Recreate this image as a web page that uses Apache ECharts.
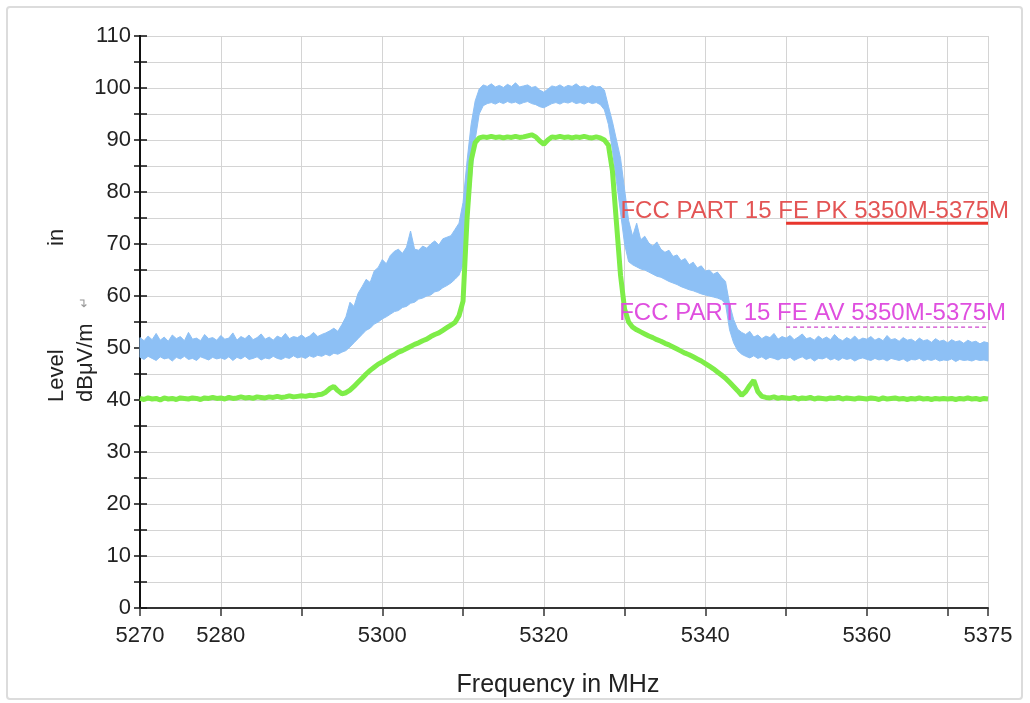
<!DOCTYPE html>
<html>
<head>
<meta charset="utf-8">
<title>Level vs Frequency</title>
<script src="https://cdn.jsdelivr.net/npm/echarts@6/dist/echarts.min.js"></script>
<style>
  html, body { margin: 0; padding: 0; background: #ffffff; }
  #chart { width: 1030px; height: 703px; }
</style>
</head>
<body>
<div id="chart"></div>
<script>
// Sweep grid: 5270 MHz to 5375 MHz in 0.5 MHz steps
const START_MHZ = 5270;
const STEP_MHZ = 0.5;

// Peak detector trace, upper edge of the noise band (dBuV/m), 10 MHz per row
const peakHi = [
  52.0, 51.4, 52.3, 51.6, 52.8, 51.5, 52.1, 51.3, 52.5, 51.8, 52.2, 51.4, 53.0, 51.7, 51.9, 51.4, 52.6, 51.8, 52.0, 51.5,
  52.4, 51.7, 51.9, 52.9, 51.5, 52.2, 51.8, 52.5, 51.6, 52.0, 52.7, 51.7, 52.1, 51.5, 52.3, 51.9, 52.8, 51.8, 52.2, 52.0,
  52.5, 51.9, 52.3, 53.0, 52.2, 52.6, 52.9, 53.3, 53.8, 53.2, 54.5, 56.0, 58.8, 58.0, 60.5, 61.8, 63.2, 62.6, 64.8, 65.5,
  67.0, 66.2, 67.8, 68.6, 69.0, 68.2, 69.4, 72.5, 69.0, 68.8, 69.6, 69.2, 70.0, 70.6, 69.8, 71.0, 71.3, 71.6, 72.8, 74.0,
  78.0, 86.0, 93.0, 97.5, 99.8, 100.6, 100.3, 100.8, 100.2, 100.5, 100.1, 100.7, 100.3, 101.0, 100.2, 100.4, 100.6, 100.1, 100.3, 99.6,
  99.2, 99.8, 100.4, 100.2, 100.6, 100.1, 100.5, 100.3, 100.8, 100.2, 100.4, 100.0, 100.5, 100.2, 100.3, 99.6, 96.5, 93.5, 90.0, 86.5,
  80.5, 74.5, 71.5, 74.0, 70.8, 71.5, 70.2, 69.6, 70.4, 69.0, 68.4, 68.8, 67.6, 67.9, 66.8, 67.2, 66.0, 66.5, 65.4, 65.8,
  64.8, 65.0, 64.2, 64.6, 63.6, 62.8, 58.5, 55.5, 53.6, 53.0, 52.6, 53.2, 52.1, 52.5, 51.8, 52.3, 52.0, 52.8, 51.7, 52.2,
  51.9, 52.4, 51.6, 52.1, 52.7, 51.8, 52.0, 51.5, 52.3, 51.7, 52.1, 51.6, 52.6, 51.8, 51.4, 52.0, 51.6, 52.3, 51.5, 51.9,
  51.7, 52.2, 51.5, 51.9, 51.4, 52.4, 51.6, 51.8, 51.3, 52.0, 51.5, 51.7, 51.2, 51.9, 51.4, 51.6, 51.1, 51.8, 51.3, 51.5,
  51.0, 51.6, 51.2, 51.4, 50.9, 51.5, 51.1, 51.3, 50.8, 51.2, 51.0
];

// Peak detector trace, lower edge of the noise band (dBuV/m)
const peakLo = [
  48.2, 47.8, 48.4, 48.0, 47.6, 48.3, 47.9, 48.1, 47.5, 48.2, 47.9, 48.4, 47.8, 48.0, 47.6, 48.3, 48.0, 47.7, 48.2, 47.9,
  48.1, 47.8, 48.3, 47.6, 48.2, 47.9, 48.4, 47.8, 48.0, 48.3, 47.7, 48.1, 47.9, 48.4, 48.0, 47.8, 48.2, 48.0, 48.5, 48.1,
  48.3, 48.0, 48.5, 48.2, 48.6, 48.4, 48.8, 48.5, 49.0, 48.8, 49.2, 49.5, 50.2, 51.0, 51.8, 52.6, 53.4, 53.8, 54.6, 55.0,
  55.6, 56.0, 56.5, 57.0, 57.2, 57.8, 58.0, 58.6, 58.8, 59.4, 59.6, 60.0, 60.2, 60.8, 61.0, 61.6, 62.0, 62.5, 63.2, 64.0,
  66.0, 72.0, 82.0, 90.0, 95.0, 96.6, 97.0, 97.2, 96.9, 97.3, 97.0, 97.4, 97.1, 97.3, 96.9, 97.2, 97.4, 97.0, 96.8, 96.4,
  96.2, 96.6, 97.0, 97.2, 96.9, 97.3, 97.1, 97.4, 97.0, 97.2, 96.9, 97.3, 97.0, 97.2, 96.8, 95.8, 93.0, 88.0, 82.0, 76.0,
  70.0, 66.6, 66.0, 65.6, 65.2, 65.0, 64.6, 64.2, 63.8, 63.6, 63.2, 62.8, 62.5, 62.2, 61.8, 61.5, 61.2, 61.0, 60.7, 60.4,
  60.2, 60.0, 59.8, 59.6, 59.3, 58.5, 53.5, 51.0, 49.5, 48.8, 48.4, 48.1, 48.5, 48.0, 48.3, 47.8, 48.2, 48.0, 47.7, 48.1,
  47.9, 48.2, 47.6, 48.0, 48.3, 47.8, 48.1, 47.5, 48.0, 47.9, 48.2, 47.7, 48.0, 47.6, 48.1, 47.8, 48.0, 47.5, 47.9, 48.1,
  47.8, 47.6, 48.0, 47.7, 47.9, 47.5, 48.0, 47.8, 47.6, 47.9, 47.4, 47.8, 47.7, 48.0, 47.5, 47.8, 47.6, 47.9, 47.5, 47.7,
  47.6, 47.9, 47.4, 47.8, 47.6, 47.7, 47.5, 47.8, 47.6, 47.7, 47.5
];

// Average detector trace (dBuV/m)
const average = [
  40.3, 40.1, 40.4, 40.2, 40.3, 40.0, 40.4, 40.2, 40.3, 40.1, 40.4, 40.3, 40.2, 40.4, 40.3, 40.1, 40.4, 40.3, 40.5, 40.3,
  40.4, 40.2, 40.5, 40.3, 40.4, 40.6, 40.4, 40.5, 40.3, 40.6, 40.5, 40.4, 40.6, 40.5, 40.7, 40.5, 40.6, 40.8, 40.6, 40.7,
  40.8, 40.7, 40.9, 40.8, 41.0, 41.1, 41.5, 42.2, 42.6, 41.8, 41.2, 41.4, 41.9, 42.6, 43.4, 44.2, 45.0, 45.7, 46.3, 46.9,
  47.3, 47.8, 48.3, 48.7, 49.2, 49.5, 49.9, 50.3, 50.7, 51.0, 51.4, 51.7, 52.2, 52.6, 52.9, 53.4, 53.9, 54.4, 54.9, 56.2,
  59.0, 75.0, 86.0, 89.5, 90.4, 90.6, 90.5, 90.7, 90.5, 90.6, 90.4, 90.6, 90.5, 90.7, 90.5, 90.6, 90.8, 91.0, 90.6, 89.8,
  89.2, 90.0, 90.6, 90.5, 90.7, 90.5, 90.6, 90.4, 90.6, 90.5, 90.7, 90.5, 90.4, 90.6, 90.4, 90.0, 89.0, 84.0, 74.0, 64.0,
  57.5, 55.0, 54.0, 53.5, 53.1, 52.7, 52.3, 52.0, 51.6, 51.3, 50.9, 50.6, 50.2, 49.8, 49.4, 49.0, 48.7, 48.3, 47.9, 47.5,
  47.0, 46.5, 46.0, 45.4, 44.8, 44.2, 43.4, 42.6, 41.8, 40.9, 41.6, 42.8, 43.8, 41.6, 40.7, 40.5, 40.4, 40.6, 40.3, 40.5,
  40.4, 40.3, 40.5, 40.2, 40.4, 40.3, 40.5, 40.2, 40.4, 40.3, 40.2, 40.4, 40.3, 40.5, 40.2, 40.4, 40.3, 40.2, 40.4, 40.3,
  40.2, 40.4, 40.3, 40.1, 40.4, 40.2, 40.3, 40.4, 40.2, 40.3, 40.1, 40.3, 40.2, 40.4, 40.2, 40.3, 40.1, 40.3, 40.2, 40.3,
  40.2, 40.3, 40.1, 40.3, 40.2, 40.4, 40.2, 40.3, 40.1, 40.3, 40.2
];

// Limit lines (dBuV/m) over their frequency span (MHz)
const limitSpan = [5350, 5375];
const peakLimit = 74;
const avgLimit = 54;
const peakLimitName = 'FCC PART 15 FE PK 5350M-5375M';
const avgLimitName = 'FCC PART 15 FE AV 5350M-5375M';

// Labelled frequency ticks
const xTickLabels = [5270, 5280, 5300, 5320, 5340, 5360, 5375];

const freqMHz = peakHi.map((_, i) => START_MHZ + i * STEP_MHZ);

const FONT = '"Liberation Sans", Arial, Helvetica, sans-serif';
const BLUE = '#8dc0f5';
const GREEN = '#7eed48';
const GRID_COLOR = '#d4d4d4';

const chart = echarts.init(document.getElementById('chart'), null, { renderer: 'canvas' });

const option = {
  backgroundColor: '#ffffff',
  animation: false,
  textStyle: { fontFamily: FONT },
  grid: { left: 140, right: 42, top: 36, bottom: 93, containLabel: false },
  xAxis: {
    type: 'value',
    min: 5270,
    max: 5375,
    interval: 10,
    name: 'Frequency in MHz',
    nameLocation: 'middle',
    nameGap: 65,
    nameTextStyle: { fontSize: 25, color: '#222', fontFamily: FONT, padding: [0, 12, 0, 0] },
    axisLine: { show: true, onZero: false, lineStyle: { color: '#333', width: 2 } },
    axisTick: { show: true, inside: false, length: 8, lineStyle: { color: '#333', width: 1.5 } },
    axisLabel: {
      fontSize: 22, color: '#222', margin: 17, fontFamily: FONT,
      formatter: v => (xTickLabels.indexOf(v) >= 0 ? String(v) : '')
    },
    splitLine: { show: true, lineStyle: { color: GRID_COLOR, width: 1 } }
  },
  yAxis: [
    {
      type: 'value',
      min: 0,
      max: 110,
      interval: 5,
      position: 'left',
      axisLine: { show: true, lineStyle: { color: '#111', width: 2 } },
      axisTick: { show: true, inside: false, length: 6, lineStyle: { color: '#111', width: 1.5 } },
      axisLabel: {
        fontSize: 22, color: '#222', margin: 9, fontFamily: FONT,
        formatter: v => (v % 10 === 0 ? String(v) : '')
      },
      splitLine: { show: true, lineStyle: { color: GRID_COLOR, width: 1 } }
    },
    {
      type: 'value',
      min: 0,
      max: 110,
      interval: 5,
      position: 'left',
      offset: 0,
      axisLine: { show: true, lineStyle: { color: '#111', width: 2 } },
      axisTick: { show: true, inside: true, length: 7, lineStyle: { color: '#111', width: 1.5 } },
      axisLabel: { show: false },
      splitLine: { show: false }
    }
  ],
  series: [
    {
      // peak trace drawn as a filled noise band between its lower and upper edges
      type: 'custom',
      name: 'Peak',
      silent: true,
      data: freqMHz.map((f, i) => [f, peakLo[i], peakHi[i]]),
      encode: { x: 0, y: [1, 2] },
      renderItem: (params, api) => {
        if (params.dataIndex !== 0) return null;
        const top = freqMHz.map((f, i) => api.coord([f, peakHi[i]]));
        const bottom = freqMHz.map((f, i) => api.coord([f, peakLo[i]])).reverse();
        return {
          type: 'polygon',
          shape: { points: top.concat(bottom) },
          style: { fill: BLUE, stroke: BLUE, lineWidth: 1 }
        };
      },
      z: 2
    },
    {
      type: 'line',
      name: 'Average',
      data: freqMHz.map((f, i) => [f, average[i]]),
      showSymbol: false,
      symbol: 'none',
      silent: true,
      lineStyle: { color: GREEN, width: 5 },
      z: 3
    },
    {
      type: 'line',
      name: peakLimitName,
      data: limitSpan.map(f => [f, peakLimit]),
      symbol: 'none',
      silent: true,
      lineStyle: { color: '#e8352d', width: 3 },
      markPoint: {
        symbol: 'circle',
        symbolSize: 0,
        silent: true,
        data: [{ coord: [limitSpan[1], peakLimit] }],
        label: {
          show: true, formatter: peakLimitName, position: 'inside',
          align: 'right', verticalAlign: 'middle', offset: [21, -12],
          color: '#e35454', fontSize: 24, fontFamily: FONT
        }
      },
      z: 4
    },
    {
      type: 'line',
      name: avgLimitName,
      data: limitSpan.map(f => [f, avgLimit]),
      symbol: 'none',
      silent: true,
      lineStyle: { color: '#cc44cc', width: 1.2, type: [4, 3] },
      markPoint: {
        symbol: 'circle',
        symbolSize: 0,
        silent: true,
        data: [{ coord: [limitSpan[1], avgLimit] }],
        label: {
          show: true, formatter: avgLimitName, position: 'inside',
          align: 'right', verticalAlign: 'middle', offset: [18, -14],
          color: '#df4fdf', fontSize: 24, fontFamily: FONT
        }
      },
      z: 4
    }
  ],
  graphic: [
    {
      type: 'rect',
      silent: true,
      z: -10,
      shape: { x: 7, y: 7, width: 1015, height: 692, r: 3 },
      style: { fill: 'none', stroke: '#dcdcdc', lineWidth: 2 }
    },
    {
      type: 'text',
      silent: true,
      x: 57, y: 402, rotation: Math.PI / 2,
      style: { text: 'Level', font: '22px ' + FONT, fill: '#222', textAlign: 'left', textVerticalAlign: 'middle' }
    },
    {
      type: 'text',
      silent: true,
      x: 57, y: 246, rotation: Math.PI / 2,
      style: { text: 'in', font: '22px ' + FONT, fill: '#222', textAlign: 'left', textVerticalAlign: 'middle' }
    },
    {
      type: 'text',
      silent: true,
      x: 86, y: 402, rotation: Math.PI / 2,
      style: { text: 'dBμV/m', font: '22px ' + FONT, fill: '#222', textAlign: 'left', textVerticalAlign: 'middle' }
    },
    {
      type: 'text',
      silent: true,
      x: 84, y: 308, rotation: Math.PI / 2,
      style: { text: '↵', font: '13px ' + FONT, fill: '#999', textAlign: 'left', textVerticalAlign: 'middle' }
    }
  ]
};

chart.setOption(option);
</script>
</body>
</html>
